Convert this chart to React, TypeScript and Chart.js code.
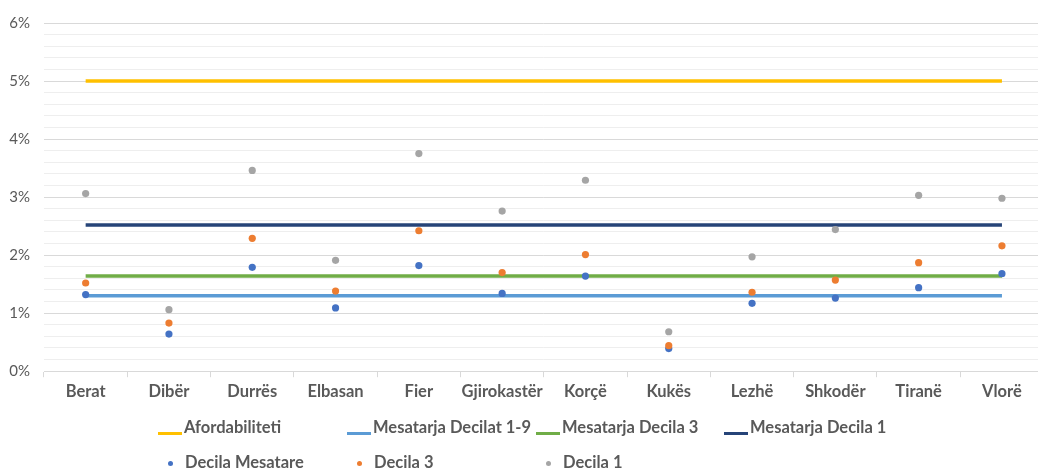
import React, { useEffect, useRef } from "react";
import { Chart, registerables } from "chart.js";

Chart.register(...registerables);

const categories = ["Berat", "Dibër", "Durrës", "Elbasan", "Fier", "Gjirokastër", "Korçë", "Kukës", "Lezhë", "Shkodër", "Tiranë", "Vlorë"];
const decilaMesatare = [1.32, 0.64, 1.79, 1.09, 1.82, 1.34, 1.64, 0.39, 1.17, 1.26, 1.44, 1.68];
const decila3 = [1.52, 0.83, 2.29, 1.38, 2.42, 1.70, 2.01, 0.44, 1.36, 1.57, 1.87, 2.16];
const decila1 = [3.06, 1.06, 3.46, 1.91, 3.75, 2.76, 3.29, 0.68, 1.97, 2.44, 3.03, 2.98];
const afordabiliteti = [5, 5, 5, 5, 5, 5, 5, 5, 5, 5, 5, 5];
const mesatarjaDecilat19 = [1.3, 1.3, 1.3, 1.3, 1.3, 1.3, 1.3, 1.3, 1.3, 1.3, 1.3, 1.3];
const mesatarjaDecila3 = [1.64, 1.64, 1.64, 1.64, 1.64, 1.64, 1.64, 1.64, 1.64, 1.64, 1.64, 1.64];
const mesatarjaDecila1 = [2.52, 2.52, 2.52, 2.52, 2.52, 2.52, 2.52, 2.52, 2.52, 2.52, 2.52, 2.52];
const yMin = 0;
const yMax = 6;
const yStep = 0.2;

const lineSeries = [
  { label: "Afordabiliteti", data: afordabiliteti, color: "#FFC000" },
  { label: "Mesatarja Decilat 1-9", data: mesatarjaDecilat19, color: "#5B9BD5" },
  { label: "Mesatarja Decila 3", data: mesatarjaDecila3, color: "#70AD47" },
  { label: "Mesatarja Decila 1", data: mesatarjaDecila1, color: "#264478" },
];
const dotSeries = [
  { label: "Decila Mesatare", data: decilaMesatare, color: "#4472C4" },
  { label: "Decila 3", data: decila3, color: "#ED7D31" },
  { label: "Decila 1", data: decila1, color: "#A5A5A5" },
];

const isMajor = (v: number) => Math.abs(v - Math.round(v)) < 1e-6;
const FONT = "Lato, 'Open Sans', sans-serif";
const TEXT = "#595959";

export default function App() {
  const ref = useRef<HTMLCanvasElement | null>(null);

  useEffect(() => {
    if (!ref.current) return;
    const datasets: any[] = [];
    dotSeries.forEach((s, i) => {
      datasets.push({
        type: "line",
        label: s.label,
        data: s.data,
        showLine: false,
        pointRadius: 3.6,
        pointHoverRadius: 3.6,
        pointBorderWidth: 0,
        pointBackgroundColor: s.color,
        borderColor: s.color,
        backgroundColor: s.color,
        order: 2 - i,
      });
    });
    lineSeries.forEach((s) => {
      datasets.push({
        type: "line",
        label: s.label,
        data: s.data,
        borderColor: s.color,
        backgroundColor: s.color,
        borderWidth: 3.6,
        pointRadius: 0,
        pointHoverRadius: 0,
        tension: 0,
        fill: false,
        order: 5,
      });
    });

    const chart = new Chart(ref.current, {
      type: "line",
      data: { labels: categories, datasets },
      options: {
        animation: false,
        responsive: false,
        layout: { padding: { top: 22, right: 16.4, bottom: 64, left: 0 } },
        plugins: { legend: { display: false }, tooltip: { enabled: false } },
        scales: {
          x: {
            type: "category",
            offset: true,
            grid: { offset: true, drawOnChartArea: false, drawTicks: true, tickLength: 6, color: "#d9d9d9" },
            border: { color: "#d9d9d9" },
            ticks: {
              autoSkip: false,
              maxRotation: 0,
              padding: 5,
              color: TEXT,
              font: { family: FONT, size: 16.5, weight: "bold" },
            },
          },
          y: {
            min: yMin,
            max: yMax,
            afterFit: (scale: any) => {
              scale.width = 44;
            },
            border: { display: false },
            grid: {
              drawTicks: false,
              color: (ctx: any) => (isMajor(ctx.tick.value) ? "#d9d9d9" : "#eeeeee"),
              lineWidth: 1,
            },
            ticks: {
              stepSize: yStep,
              autoSkip: false,
              maxTicksLimit: 100,
              padding: 14,
              color: TEXT,
              font: { family: FONT, size: 15 },
              callback: (v: any) => (isMajor(Number(v)) ? `${Math.round(Number(v))}%` : ""),
            },
          },
        },
      } as any,
    });
    return () => chart.destroy();
  }, []);

  const colLeft = [158, 347, 536, 724];
  const legendText: React.CSSProperties = {
    position: "absolute",
    fontFamily: FONT,
    fontWeight: 700,
    fontSize: 16.5,
    color: TEXT,
    whiteSpace: "nowrap",
    lineHeight: "20px",
  };

  return (
    <div style={{ position: "fixed", left: 0, top: 0, width: 1060, height: 471, background: "#fff" }}>
      <canvas ref={ref} width={1060} height={471} style={{ width: 1060, height: 471, display: "block" }} />
      {lineSeries.map((s, i) => (
        <React.Fragment key={s.label}>
          <div style={{ position: "absolute", left: colLeft[i], top: 432, width: 24, height: 3, background: s.color }} />
          <div style={{ ...legendText, left: colLeft[i] + 26, top: 417 }}>{s.label}</div>
        </React.Fragment>
      ))}
      {dotSeries.map((s, i) => (
        <React.Fragment key={s.label}>
          <div
            style={{
              position: "absolute",
              left: colLeft[i] + 10,
              top: 461,
              width: 5,
              height: 5,
              borderRadius: "50%",
              background: s.color,
            }}
          />
          <div style={{ ...legendText, left: colLeft[i] + 27, top: 452 }}>{s.label}</div>
        </React.Fragment>
      ))}
    </div>
  );
}
